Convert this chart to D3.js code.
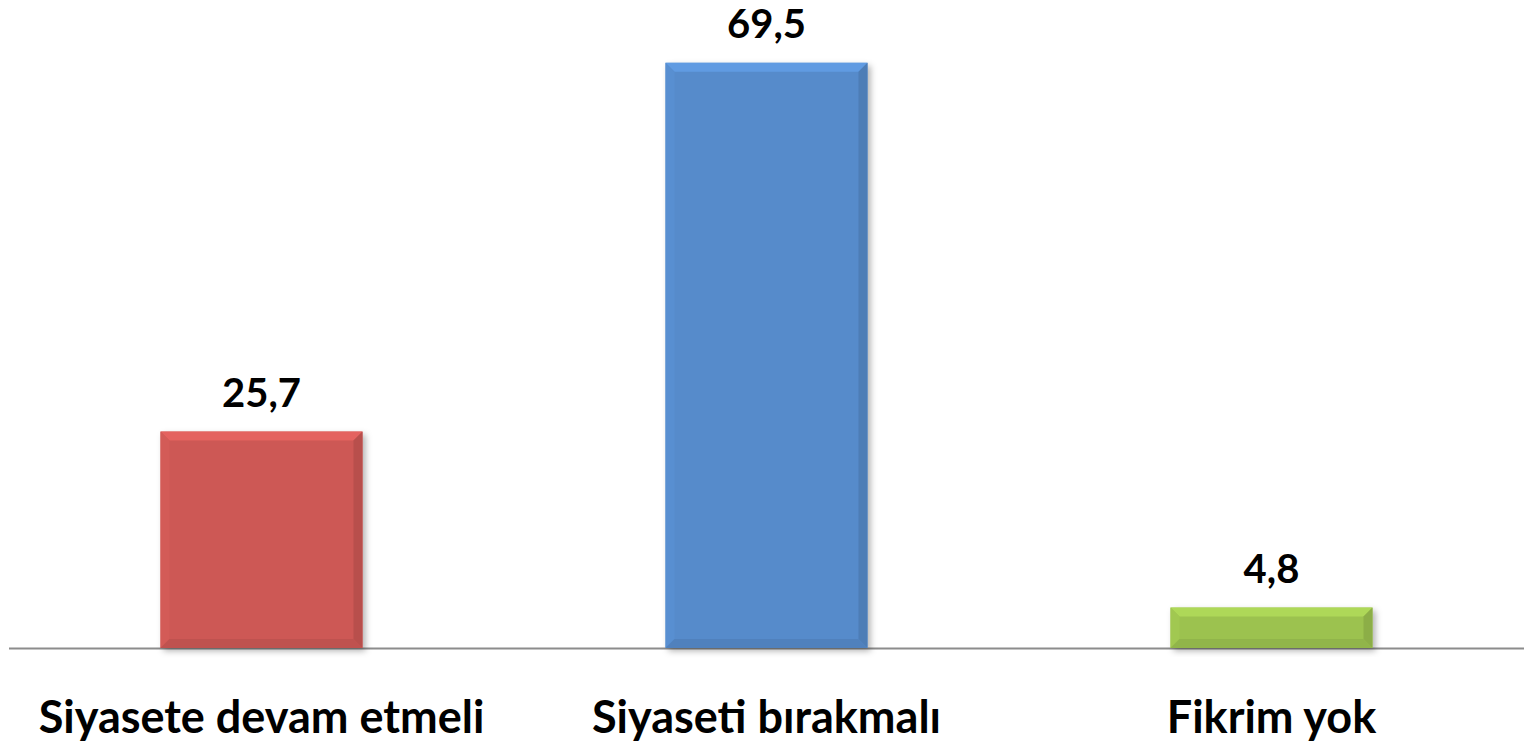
<!DOCTYPE html>
<html>
<head>
<meta charset="utf-8">
<script src="https://cdn.jsdelivr.net/npm/d3@7"></script>
<style>
  body { margin: 0; background: #fff; }
  svg { display: block; }
  text { font-family: Lato, "Open Sans", sans-serif; font-weight: bold; fill: #000; }
</style>
</head>
<body>
<svg width="1524" height="750"></svg>
<script>
var categories = ["Siyasete devam etmeli", "Siyaseti bırakmalı", "Fikrim yok"];
var values = [25.7, 69.5, 4.8];
var valueLabels = ["25,7", "69,5", "4,8"];
var barColors = ["#CD5855", "#568BCB", "#9CC24F"];

var svg = d3.select("svg");
var baseY = 648;

var x = d3.scaleBand().domain(categories).range([9, 1524]).paddingInner(0.6).paddingOuter(0.3);
var y = d3.scaleLinear().domain([0, 70]).range([baseY, baseY - 70 * 8.42]);

var defs = svg.append("defs");
var f = defs.append("filter").attr("id", "shadow").attr("x", "-10%").attr("y", "-10%").attr("width", "130%").attr("height", "130%");
f.append("feDropShadow").attr("dx", 3).attr("dy", 3).attr("stdDeviation", 3).attr("flood-color", "#000").attr("flood-opacity", 0.3);

// baseline
svg.append("line")
    .attr("x1", 9).attr("x2", 1524)
    .attr("y1", baseY + 0.5).attr("y2", baseY + 0.5)
    .attr("stroke", "#8c8c8c").attr("stroke-width", 2);

var bev = 9;
var bars = svg.selectAll("g.bar").data(categories).enter().append("g").attr("class", "bar");

bars.each(function(c, i){
    var g = d3.select(this);
    var x0 = x(c), x1 = x(c) + x.bandwidth();
    var y0 = y(values[i]), y1 = y(0);
    var col = d3.color(barColors[i]);
    var b = Math.min(bev, (y1 - y0) / 2);

    g.append("rect")
        .attr("x", x0).attr("y", y0)
        .attr("width", x1 - x0).attr("height", y1 - y0)
        .attr("fill", col)
        .attr("filter", "url(#shadow)");

    var sides = [
        {pts: [[x0,y0],[x1,y0],[x1-b,y0+b],[x0+b,y0+b]], fill: col.brighter(0.3)},
        {pts: [[x0,y0],[x0+b,y0+b],[x0+b,y1-b],[x0,y1]], fill: col.brighter(0.08)},
        {pts: [[x1,y0],[x1,y1],[x1-b,y1-b],[x1-b,y0+b]], fill: col.darker(0.3)},
        {pts: [[x0,y1],[x0+b,y1-b],[x1-b,y1-b],[x1,y1]], fill: col.darker(0.2)}
    ];
    sides.forEach(function(s){
        g.append("polygon")
            .attr("points", s.pts.map(function(p){ return p.join(","); }).join(" "))
            .attr("fill", s.fill);
    });

    g.append("text")
        .attr("x", (x0 + x1) / 2)
        .attr("y", y0 - 25)
        .attr("text-anchor", "middle")
        .attr("font-size", 40)
        .text(valueLabels[i]);
});

// category labels
svg.selectAll("text.cat").data(categories).enter().append("text")
    .attr("class", "cat")
    .attr("x", function(d){ return x(d) + x.bandwidth() / 2; })
    .attr("y", 733)
    .attr("text-anchor", "middle")
    .attr("font-size", 45)
    .text(function(d){ return d; });
</script>
</body>
</html>
